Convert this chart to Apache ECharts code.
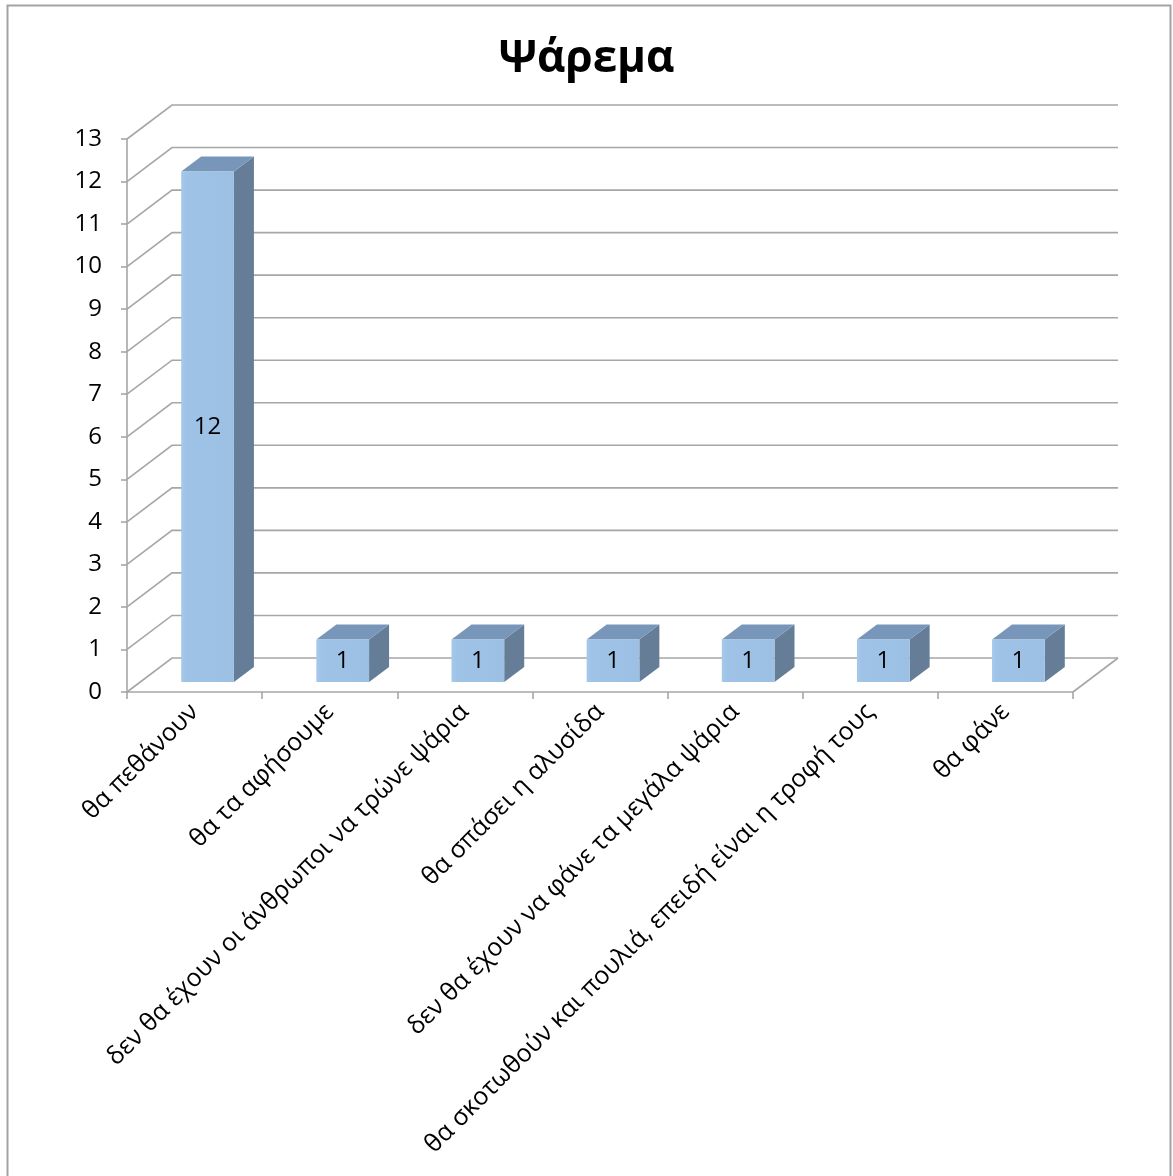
<!DOCTYPE html>
<html><head><meta charset="utf-8">
<script src="https://cdn.jsdelivr.net/npm/echarts@6/dist/echarts.min.js"></script>
<style>html,body{margin:0;padding:0;background:#fff}#c{width:1173px;height:1176px}</style>
</head><body><div id="c"></div>
<script>
const chartTitle = 'Ψάρεμα';
const categories = [
  'θα πεθάνουν',
  'θα τα αφήσουμε',
  'δεν θα έχουν οι άνθρωποι να τρώνε ψάρια',
  'θα σπάσει η αλυσίδα',
  'δεν θα έχουν να φάνε τα μεγάλα ψάρια',
  'θα σκοτωθούν και πουλιά, επειδή είναι η τροφή τους',
  'θα φάνε'
];
const values = [12, 1, 1, 1, 1, 1, 1];
const yTicks = [0,1,2,3,4,5,6,7,8,9,10,11,12,13];

const FONT = '"Open Sans", "Noto Sans", sans-serif';
const DEPTH = [45, -34];      // back wall offset
const BAR_FRONT = [13, -10];  // bar front face offset
const BAR_BACK = [33, -25];   // bar back face offset
const GRID_COLOR = '#A6A6A6';

const chart = echarts.init(document.getElementById('c'));

function gridRender(params, api) {
  const cs = params.coordSys;
  const y = api.coord([0, api.value(1)])[1];
  return {
    type: 'polyline',
    shape: { points: [[cs.x, y], [cs.x + DEPTH[0], y + DEPTH[1]], [cs.x + cs.width + DEPTH[0], y + DEPTH[1]]] },
    style: { stroke: GRID_COLOR, lineWidth: 1.6, fill: null },
    silent: true
  };
}
function floorRender(params, api) {
  const cs = params.coordSys;
  const x = cs.x + cs.width, y = cs.y + cs.height;
  return {
    type: 'line',
    shape: { x1: x, y1: y, x2: x + DEPTH[0], y2: y + DEPTH[1] },
    style: { stroke: GRID_COLOR, lineWidth: 1.6 },
    silent: true
  };
}
function barRender(params, api) {
  const idx = api.value(0);
  const top = api.coord([idx, api.value(1)]);
  const base = api.coord([idx, 0]);
  const w = api.size([1, 0])[0] * 0.39;
  const l = top[0] - w / 2, r = top[0] + w / 2;
  const fx = BAR_FRONT[0], fy = BAR_FRONT[1], bx = BAR_BACK[0], by = BAR_BACK[1];
  const front = [[l + fx, top[1] + fy], [r + fx, top[1] + fy], [r + fx, base[1] + fy], [l + fx, base[1] + fy]];
  const topFace = [[l + fx, top[1] + fy], [l + bx, top[1] + by], [r + bx, top[1] + by], [r + fx, top[1] + fy]];
  const side = [[r + fx, top[1] + fy], [r + bx, top[1] + by], [r + bx, base[1] + by], [r + fx, base[1] + fy]];
  return {
    type: 'group',
    children: [
      { type: 'polygon', shape: { points: side }, style: { fill: '#657D97' } },
      { type: 'polygon', shape: { points: topFace }, style: { fill: '#7896B9' } },
      { type: 'polygon', shape: { points: front }, style: {
          fill: new echarts.graphic.LinearGradient(0, 0, 1, 0, [
            { offset: 0, color: '#A6C8EA' }, { offset: 0.1, color: '#9EC3E7' }, { offset: 1, color: '#9BC0E4' }
          ]) } },
      { type: 'text', x: top[0] + fx, y: (top[1] + base[1]) / 2 + fy,
        style: { text: String(api.value(1)), fill: '#000', fontSize: 24, fontFamily: FONT, align: 'center', verticalAlign: 'middle' } }
    ]
  };
}

chart.setOption({
  animation: false,
  backgroundColor: '#fff',
  title: {
    text: chartTitle, left: 'center', top: 32,
    textStyle: { fontFamily: FONT, fontSize: 44, fontWeight: 'bold', color: '#000' }
  },
  graphic: [{
    type: 'rect', shape: { x: 7.5, y: 5.5, width: 1163, height: 1200 },
    style: { fill: null, stroke: '#A3A3A3', lineWidth: 2 }, silent: true, z: 100
  }],
  grid: { left: 127, right: 100, top: 139, bottom: 484, containLabel: false },
  xAxis: {
    type: 'category', data: categories,
    axisLine: { show: true, lineStyle: { color: GRID_COLOR, width: 1.6 } },
    axisTick: { show: true, length: 7, interval: 0, lineStyle: { color: GRID_COLOR, width: 1.6 } },
    axisLabel: { interval: 0, rotate: 45, margin: 16, fontFamily: FONT, fontSize: 25, color: '#000' },
    splitLine: { show: false }
  },
  yAxis: {
    type: 'value', min: 0, max: 13, interval: 1,
    axisLine: { show: true, lineStyle: { color: GRID_COLOR, width: 1.6 } },
    axisTick: { show: true, length: 6, lineStyle: { color: GRID_COLOR, width: 1.6 } },
    axisLabel: { margin: 25, fontFamily: FONT, fontSize: 24, color: '#000' },
    splitLine: { show: false }
  },
  series: [
    { type: 'custom', renderItem: gridRender, data: yTicks.map(v => [0, v]), encode: { x: 0, y: 1 }, z: 1, silent: true },
    { type: 'custom', renderItem: floorRender, data: [[0, 0]], encode: { x: 0, y: 1 }, z: 1, silent: true },
    { type: 'custom', renderItem: barRender, data: values.map((v, i) => [i, v]), encode: { x: 0, y: 1 }, z: 5 }
  ]
});
</script></body></html>
